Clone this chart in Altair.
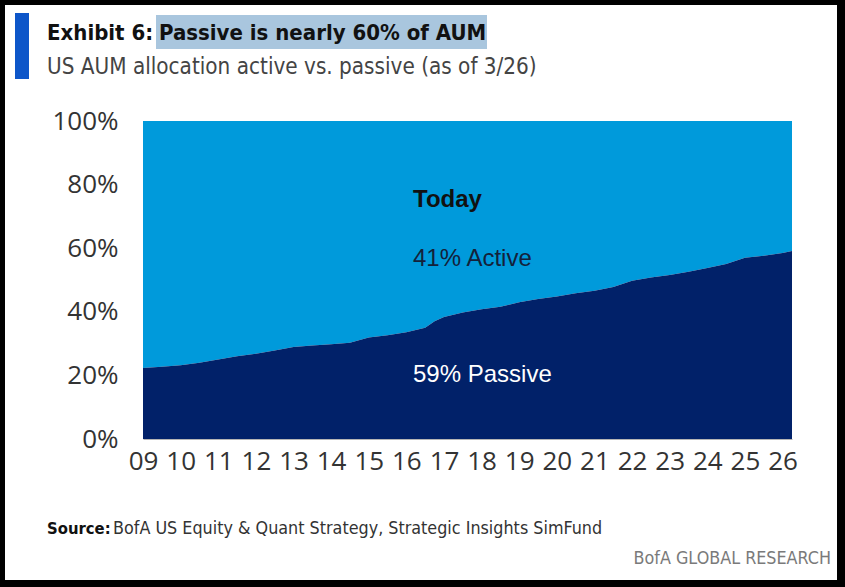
import altair as alt
import pandas as pd

# ---- data ----
years = [2009.0, 2009.5, 2010.0, 2010.5, 2011.0, 2011.5, 2012.0, 2012.5, 2013.0, 2013.5,
         2014.0, 2014.5, 2015.0, 2015.5, 2016.0, 2016.5, 2016.75, 2017.0, 2017.5, 2018.0,
         2018.5, 2019.0, 2019.5, 2020.0, 2020.5, 2021.0, 2021.5, 2022.0, 2022.5, 2023.0,
         2023.5, 2024.0, 2024.5, 2025.0, 2025.5, 2026.0, 2026.25]
passive = [22.3, 22.7, 23.2, 24.0, 25.0, 26.0, 26.8, 27.8, 28.9, 29.4,
           29.8, 30.3, 31.9, 32.6, 33.6, 35.0, 37.0, 38.4, 39.8, 40.8,
           41.6, 43.0, 44.0, 44.8, 45.8, 46.6, 47.8, 49.8, 50.8, 51.6,
           52.6, 53.8, 55.0, 57.0, 57.6, 58.5, 59.1]
tick_years = list(range(2009, 2027))
y_ticks = [0, 20, 40, 60, 80, 100]

title_lead = "Exhibit 6:"
title_main = "Passive is nearly 60% of AUM"
subtitle = "US AUM allocation active vs. passive (as of 3/26)"
source_lead = "Source:"
source_text = "BofA US Equity & Quant Strategy, Strategic Insights SimFund"
brand = "BofA GLOBAL RESEARCH"
ann_today = "Today"
ann_active = "41% Active"
ann_passive = "59% Passive"

df = pd.DataFrame({"year": years, "passive": passive})

# ---- layout ----
W, H = 845, 587
OX, OY = 143, 121          # plot origin in page pixels
PW, PH = 649, 318          # plot area size

ACTIVE = "#009ADB"
PASSIVE = "#012169"
COND = "DejaVu Sans Condensed, sans-serif"
ARIAL = "Liberation Sans, Arial, sans-serif"
TICKF = "Open Sans, sans-serif"

one = pd.DataFrame({"k": [0]})


def rx(px):
    return px - OX


def ry(py):
    return py - OY


x_enc = alt.X(
    "year:Q",
    scale=alt.Scale(domain=[2009, 2026.25], nice=False, zero=False),
    axis=alt.Axis(values=tick_years, labelExpr="slice(toString(datum.value), 2)",
                  ticks=False, grid=False, labelFontSize=26, labelFont=TICKF,
                  labelColor="#333333", labelPadding=9, domainColor="#b5b5b5",
                  domainWidth=1.2, labelFlush=False, labelOverlap=False,
                  labelBound=False, title=None, zindex=1),
)
y_enc = alt.Y(
    "passive:Q",
    scale=alt.Scale(domain=[0, 100], nice=False),
    axis=alt.Axis(values=y_ticks, labelExpr="datum.value + '%'", ticks=False,
                  grid=False, domain=False, labelFontSize=26, labelFont=TICKF,
                  labelColor="#333333", labelPadding=25, title=None, zindex=1),
)

frame = alt.Chart(one).mark_rect(color="white").encode(
    x=alt.value(rx(5)), x2=alt.value(rx(837)), y=alt.value(ry(5)), y2=alt.value(ry(580)))

active_area = alt.Chart(df).mark_area(color=ACTIVE, interpolate="linear").encode(
    x=x_enc, y=alt.Y("passive:Q", scale=alt.Scale(domain=[0, 100], nice=False)),
    y2=alt.datum(100))
passive_area = alt.Chart(df).mark_area(color=PASSIVE, interpolate="linear").encode(
    x=x_enc, y=y_enc)

bar = alt.Chart(one).mark_rect(color="#0D56C9").encode(
    x=alt.value(rx(15)), x2=alt.value(rx(29)), y=alt.value(ry(13)), y2=alt.value(ry(79)))
hilite = alt.Chart(one).mark_rect(color="#A9C6DE").encode(
    x=alt.value(rx(156)), x2=alt.value(rx(487)), y=alt.value(ry(15)), y2=alt.value(ry(49)))


def txt(s, px, py, size, font, color, weight="normal", align="left"):
    return alt.Chart(one).mark_text(
        text=s, font=font, fontSize=size, fontWeight=weight, color=color,
        align=align, baseline="alphabetic").encode(x=alt.value(rx(px)), y=alt.value(ry(py)))


layers = [
    frame, active_area, passive_area, bar, hilite,
    txt(title_lead, 47, 40, 22, COND, "#111111", "bold"),
    txt(title_main, 159, 40, 22, COND, "#111111", "bold"),
    txt(subtitle, 47, 74, 22.3, COND, "#444444"),
    txt(ann_today, 413, 207, 24, ARIAL, "#111111", "bold"),
    txt(ann_active, 413, 266, 24, ARIAL, "#14213a"),
    txt(ann_passive, 413, 382, 24, ARIAL, "#ffffff"),
    txt(source_lead, 47, 534, 16.5, COND, "#111111", "bold"),
    txt(source_text, 113, 534, 17.8, COND, "#333333"),
    txt(brand, 831, 564, 17.8, COND, "#7a7a7a", align="right"),
]

chart = alt.layer(*layers).properties(
    width=PW, height=PH,
    autosize=alt.AutoSizeParams(type="none"),
    padding={"left": OX, "top": OY, "right": W - OX - PW, "bottom": H - OY - PH},
    background="#000000",
).configure_view(stroke=None)

chart.save("out.html", embed_options={"renderer": "svg", "actions": False})
